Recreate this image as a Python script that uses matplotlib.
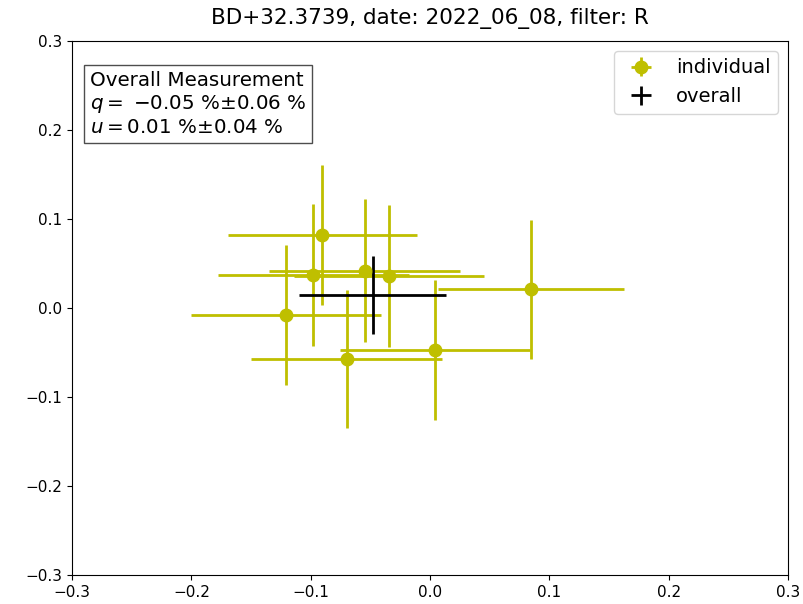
import matplotlib
matplotlib.use("Agg")
import matplotlib.pyplot as plt

q_vals = [-0.0903, -0.0978, -0.0545, -0.0341, -0.1207, -0.0698, 0.0042, 0.0844]
u_vals = [0.082, 0.037, 0.042, 0.036, -0.0079, -0.0573, -0.0472, 0.021]
q_errs = [0.079, 0.080, 0.080, 0.0796, 0.0793, 0.080, 0.0793, 0.078]
u_errs = [0.0787, 0.080, 0.080, 0.0794, 0.0787, 0.078, 0.079, 0.078]

q_all = -0.048
u_all = 0.0145
q_all_err = 0.0615
u_all_err = 0.044

title = "BD+32.3739, date: 2022_06_08, filter: R"

fig = plt.figure(figsize=(8.04, 6.04), dpi=100)
ax = fig.add_axes([72/804, 1-575/604, (788-72)/804, (575-41)/604])

ax.errorbar(q_vals, u_vals, xerr=q_errs, yerr=u_errs, fmt='o', color='y',
            ms=9, lw=2, label='individual')
ax.errorbar([q_all], [u_all], xerr=[q_all_err], yerr=[u_all_err], fmt='none',
            ecolor='k', lw=2, label='overall')

ax.set_xlim(-0.3, 0.3)
ax.set_ylim(-0.3, 0.3)
ax.set_xticks([-0.3, -0.2, -0.1, 0.0, 0.1, 0.2, 0.3])
ax.set_yticks([-0.3, -0.2, -0.1, 0.0, 0.1, 0.2, 0.3])
ax.tick_params(labelsize=11)
ax.set_title(title, fontsize=15.5, pad=12)

txt = ("Overall Measurement\n"
       f"$q=$ ${q_all:.2f}$ %$\\pm${q_all_err:.2f} %\n"
       f"$u=${u_all:.2f} %$\\pm${u_all_err:.2f} %")
ax.text(0.025, 0.944, txt, transform=ax.transAxes, fontsize=14.3, va='top', ha='left',
        linespacing=1.2,
        bbox=dict(boxstyle='square', facecolor='white', edgecolor='0.3'))

ax.legend(loc='upper right', fontsize=14)

fig.savefig("out.png", dpi=100)
